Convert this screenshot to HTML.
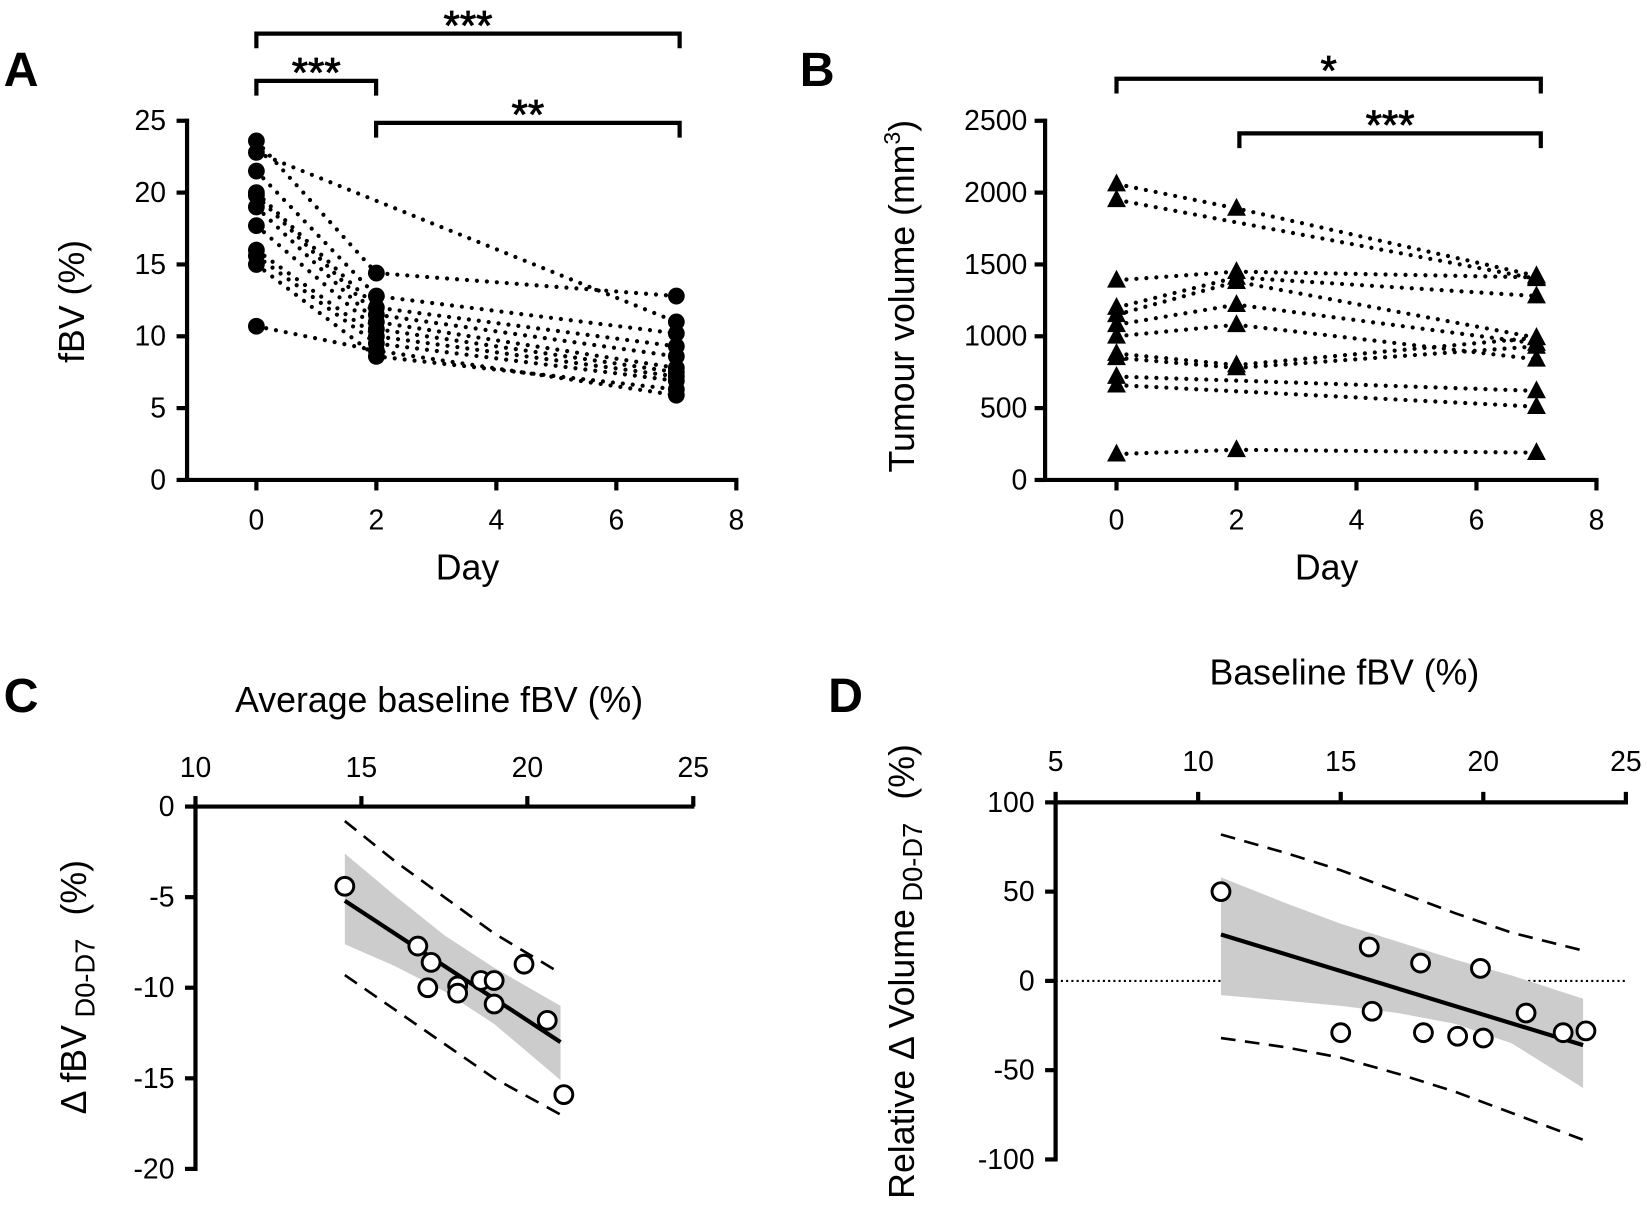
<!DOCTYPE html>
<html><head><meta charset="utf-8">
<style>
html,body{margin:0;padding:0;background:#fff;}
svg{display:block;font-family:"Liberation Sans",Arial,sans-serif;}
</style></head>
<body>
<svg id="fig" width="1647" height="1213" viewBox="0 0 1568 1155" xmlns="http://www.w3.org/2000/svg">
<g id="root"></g>
</svg>
<script>
// ---------- Panel A data (fBV %) ----------
const daysA = [0, 2, 7];
const fbvSeries = [
  [23.6, 14.4, 12.8],
  [22.8, null, 11.0],
  [21.5, 12.8, 10.2],
  [20.0, 12.0, 9.3],
  [19.8, 11.5, 8.6],
  [19.0, 11.0, 7.8],
  [17.7, 10.5, 7.5],
  [16.0, 10.0, 7.2],
  [15.6, 9.5, 6.9],
  [15.0, 8.6, 6.3],
  [10.7, 9.0, 5.9]
];
const yTicksA = [0, 5, 10, 15, 20, 25];
const xTicksDay = [0, 2, 4, 6, 8];
// ---------- Panel B data (tumour volume) ----------
const volSeries = [
  [2060, 1890, 1420],
  [1950, null, 1400],
  [1390, 1450, 1410],
  [1200, 1410, 1280],
  [1150, 1380, 990],
  [1080, 1220, 950],
  [1000, 1080, 840],
  [880, 800, 990],
  [850, 780, 930],
  [720, null, 620],
  [660, null, 510],
  [180, 210, 190]
];
const yTicksB = [0, 500, 1000, 1500, 2000, 2500];
// ---------- Panel C data ----------
const cX = [14.5, 16.7, 17.1, 17.0, 17.9, 17.9, 18.6, 19.0, 19.0, 19.9, 20.6, 21.1];
const cY = [-4.4, -7.7, -8.6, -10.0, -9.9, -10.3, -9.6, -9.6, -10.9, -8.7, -11.8, -15.9];
const cFitX = [14.5, 21.0];
const cFitY = [-5.2, -13.0];
const cBandX = [14.5, 16, 17.5, 19, 21];
const cBandUp = [-2.6, -4.9, -7.1, -8.9, -11.0];
const cBandLo = [-7.6, -8.8, -10.2, -12.0, -15.1];
const cPredUp = [-0.8, -3.0, -5.0, -7.0, -9.2];
const cPredLo = [-9.3, -11.2, -13.1, -15.0, -17.0];
const xTicksC = [10, 15, 20, 25];
const yTicksC = [0, -5, -10, -15, -20];
// ---------- Panel D data ----------
const dX = [10.8, 16.0, 16.1, 15.0, 17.8, 17.9, 19.1, 19.9, 20.0, 21.5, 22.8, 23.6];
const dY = [50, 19, -17, -29, 10, -29, -31, 7, -32, -18, -29, -28];
const dFitX = [10.8, 23.5];
const dFitY = [26, -36];
const dBandX = [10.8, 13, 15, 17, 19, 21, 23.5];
const dBandUp = [58, 44, 32, 22, 12, 3, -10];
const dBandLo = [-8, -11, -14, -18, -24, -35, -60];
const dPredUp = [82, 72, 62, 50, 38, 27, 17];
const dPredLo = [-32, -37, -43, -52, -62, -74, -89];
const xTicksD = [5, 10, 15, 20, 25];
const yTicksD = [100, 50, 0, -50, -100];

const NS = "http://www.w3.org/2000/svg";
const root = document.getElementById('root');
function mk(tag, attrs, parent) {
  const e = document.createElementNS(NS, tag);
  for (const k in attrs) e.setAttribute(k, attrs[k]);
  (parent || root).appendChild(e);
  return e;
}
function txt(x, y, s, size, anchor, parent, extra) {
  const t = mk('text', Object.assign({x: x, y: y, 'font-size': size, 'text-anchor': anchor || 'middle', fill: '#000'}, extra || {}), parent);
  t.textContent = s;
  return t;
}
function lin(d0, d1, r0, r1) { return v => r0 + (v - d0) * (r1 - r0) / (d1 - d0); }
const TK = 27;

// ---------- Panel A ----------
const gA = mk('g', {});


const xA = lin(0, 8, 244, 701), yA = lin(0, 25, 457, 115);
let t = txt(20, 82, 'A', 46, 'middle', gA, {'font-weight': 'bold'});
 
let ax = mk('path', {d: 'M178 113 V457 H703', stroke: '#000', 'stroke-width': 4, fill: 'none'}, gA);
 
yTicksA.forEach(v => {
  mk('line', {x1: 168, x2: 178, y1: yA(v), y2: yA(v), stroke: '#000', 'stroke-width': 4}, gA);
  const l = txt(158, yA(v) + 9, String(v), TK, 'end', gA);
   
});
xTicksDay.forEach(v => {
  mk('line', {x1: xA(v), x2: xA(v), y1: 457, y2: 467, stroke: '#000', 'stroke-width': 4}, gA);
  const l = txt(xA(v), 504, String(v), TK, 'middle', gA);
   
});
t = txt(445, 552, 'Day', 34, 'middle', gA);
 
t = txt(0, 0, 'fBV (%)', 34, 'middle', gA, {transform: 'translate(80,287) rotate(-90)'});
 
fbvSeries.forEach(s => {
  const pts = [];
  s.forEach((v, i) => { if (v !== null) pts.push([xA(daysA[i]), yA(v)]); });
  const p = mk('polyline', {points: pts.map(q => q.join(',')).join(' '), fill: 'none', stroke: '#000', 'stroke-width': 4, 'stroke-dasharray': '0 9.5', 'stroke-linecap': 'round'}, gA);
   
});
fbvSeries.forEach(s => {
  s.forEach((v, i) => {
    if (v === null) return;
    const c = mk('circle', {cx: xA(daysA[i]), cy: yA(v), r: 8, fill: '#000'}, gA);
     
  });
});
function bracket(g, x1, x2, y, label, name) {
  const b = mk('path', {d: `M${x1} ${y + 14} V${y} H${x2} V${y + 14}`, stroke: '#000', 'stroke-width': 4, fill: 'none'}, g);
   
  const s = txt((x1 + x2) / 2, y + 6, label, 40, 'middle', g, {'stroke': '#000', 'stroke-width': 0.8});
   
}
bracket(gA, 244, 647, 32, '***', 'bracket-day0-day7');
bracket(gA, 244, 358, 77, '***', 'bracket-day0-day2');
bracket(gA, 358, 647, 117, '**', 'bracket-day2-day7');

// ---------- Panel B ----------
const gB = mk('g', {});


const xB = lin(0, 8, 1063, 1520), yB = lin(0, 2500, 457, 115);
t = txt(778, 82, 'B', 46, 'middle', gB, {'font-weight': 'bold'});
 
ax = mk('path', {d: 'M995 113 V457 H1522', stroke: '#000', 'stroke-width': 4, fill: 'none'}, gB);
 
yTicksB.forEach(v => {
  mk('line', {x1: 985, x2: 995, y1: yB(v), y2: yB(v), stroke: '#000', 'stroke-width': 4}, gB);
  const l = txt(978, yB(v) + 9, String(v), TK, 'end', gB);
   
});
xTicksDay.forEach(v => {
  mk('line', {x1: xB(v), x2: xB(v), y1: 457, y2: 467, stroke: '#000', 'stroke-width': 4}, gB);
  const l = txt(xB(v), 504, String(v), TK, 'middle', gB);
   
});
t = txt(1263, 552, 'Day', 34, 'middle', gB);
 
t = mk('text', {transform: 'translate(870,282) rotate(-90)', 'font-size': 34, 'text-anchor': 'middle'}, gB);
t.innerHTML = 'Tumour volume (mm<tspan font-size="22" dy="-13">3</tspan><tspan dy="13">)</tspan>';
 
volSeries.forEach(s => {
  const pts = [];
  s.forEach((v, i) => { if (v !== null) pts.push([xB(daysA[i]), yB(v)]); });
  const p = mk('polyline', {points: pts.map(q => q.join(',')).join(' '), fill: 'none', stroke: '#000', 'stroke-width': 4, 'stroke-dasharray': '0 9.5', 'stroke-linecap': 'round'}, gB);
   
});
volSeries.forEach(s => {
  s.forEach((v, i) => {
    if (v === null) return;
    const cx = xB(daysA[i]), cy = yB(v);
    const tri = mk('polygon', {points: `${cx},${cy - 10} ${cx - 9},${cy + 7} ${cx + 9},${cy + 7}`, fill: '#000'}, gB);
     
  });
});
bracket(gB, 1063, 1467, 75, '*', 'bracket-day0-day7');
bracket(gB, 1180, 1467, 127, '***', 'bracket-day2-day7');

// ---------- Panel C ----------
const gC = mk('g', {});


const xC = lin(10, 25, 186, 660), yC = lin(0, -20, 768, 1113);
t = txt(20, 678, 'C', 46, 'middle', gC, {'font-weight': 'bold'});
 
t = txt(418, 678, 'Average baseline fBV (%)', 34, 'middle', gC);
 
function band(g, xs, up, lo, xf, yf, name) {
  const pts = xs.map((x, i) => [xf(x), yf(up[i])]).concat(xs.map((x, i) => [xf(x), yf(lo[i])]).reverse());
  const p = mk('polygon', {points: pts.map(q => q.join(',')).join(' '), fill: '#cccccc'}, g);
   
}
function dline(g, xs, ys, xf, yf, name, dash, w) {
  const p = mk('polyline', {points: xs.map((x, i) => xf(x) + ',' + yf(ys[i])).join(' '), fill: 'none', stroke: '#000', 'stroke-width': w, 'stroke-dasharray': dash}, g);
   
}
band(gC, cBandX, cBandUp, cBandLo, xC, yC, 'confidence-band');
dline(gC, cBandX, cPredUp, xC, yC, 'prediction-upper', '14 9', 2.5);
dline(gC, cBandX, cPredLo, xC, yC, 'prediction-lower', '14 9', 2.5);
dline(gC, cFitX, cFitY, xC, yC, 'regression-line', 'none', 4);
ax = mk('path', {d: 'M186 1115 V768 H661', stroke: '#000', 'stroke-width': 4, fill: 'none'}, gC);
 
xTicksC.forEach(v => {
  mk('line', {x1: xC(v), x2: xC(v), y1: 758, y2: 768, stroke: '#000', 'stroke-width': 4}, gC);
  const l = txt(xC(v), 740, String(v), TK, 'middle', gC);
   
});
yTicksC.forEach(v => {
  mk('line', {x1: 176, x2: 186, y1: yC(v), y2: yC(v), stroke: '#000', 'stroke-width': 4}, gC);
  const l = txt(166, yC(v) + 9, String(v), TK, 'end', gC);
   
});
t = mk('text', {transform: 'translate(82,940) rotate(-90)', 'font-size': 34, 'text-anchor': 'middle', 'xml:space': 'preserve'}, gC);
t.innerHTML = 'Δ fBV<tspan font-size="26" dy="8"> D0-D7</tspan><tspan dy="-8" dx="22">(%)</tspan>';
 
cX.forEach((x, i) => {
  const c = mk('circle', {cx: xC(x), cy: yC(cY[i]), r: 8.5, fill: '#fff', stroke: '#000', 'stroke-width': 2.8}, gC);
   
});

// ---------- Panel D ----------
const gD = mk('g', {});


const xD = lin(5, 25, 1005, 1548), yD = lin(100, -100, 764, 1104);
t = txt(805, 678, 'D', 46, 'middle', gD, {'font-weight': 'bold'});
 
t = txt(1280, 652, 'Baseline fBV (%)', 34, 'middle', gD);
 
let z = mk('line', {x1: 1005, x2: 1548, y1: yD(0), y2: yD(0), stroke: '#000', 'stroke-width': 2, 'stroke-dasharray': '2 3'}, gD);
 
band(gD, dBandX, dBandUp, dBandLo, xD, yD, 'confidence-band');
dline(gD, dBandX, dPredUp, xD, yD, 'prediction-upper', '14 9', 2.5);
dline(gD, dBandX, dPredLo, xD, yD, 'prediction-lower', '14 9', 2.5);
dline(gD, dFitX, dFitY, xD, yD, 'regression-line', 'none', 4);
ax = mk('path', {d: 'M1005 1106 V764 H1550', stroke: '#000', 'stroke-width': 4, fill: 'none'}, gD);
 
xTicksD.forEach(v => {
  mk('line', {x1: xD(v), x2: xD(v), y1: 754, y2: 764, stroke: '#000', 'stroke-width': 4}, gD);
  const l = txt(xD(v), 734, String(v), TK, 'middle', gD);
   
});
yTicksD.forEach(v => {
  mk('line', {x1: 995, x2: 1005, y1: yD(v), y2: yD(v), stroke: '#000', 'stroke-width': 4}, gD);
  const l = txt(985, yD(v) + 9, String(v), TK, 'end', gD);
   
});
t = mk('text', {transform: 'translate(870,925) rotate(-90)', 'font-size': 34, 'text-anchor': 'middle'}, gD);
t.innerHTML = 'Relative Δ Volume<tspan font-size="26" dy="8"> D0-D7</tspan><tspan dy="-8" dx="22">(%)</tspan>';
 
dX.forEach((x, i) => {
  const c = mk('circle', {cx: xD(x), cy: yD(dY[i]), r: 8.5, fill: '#fff', stroke: '#000', 'stroke-width': 2.8}, gD);
   
});
</script>
</body></html>
